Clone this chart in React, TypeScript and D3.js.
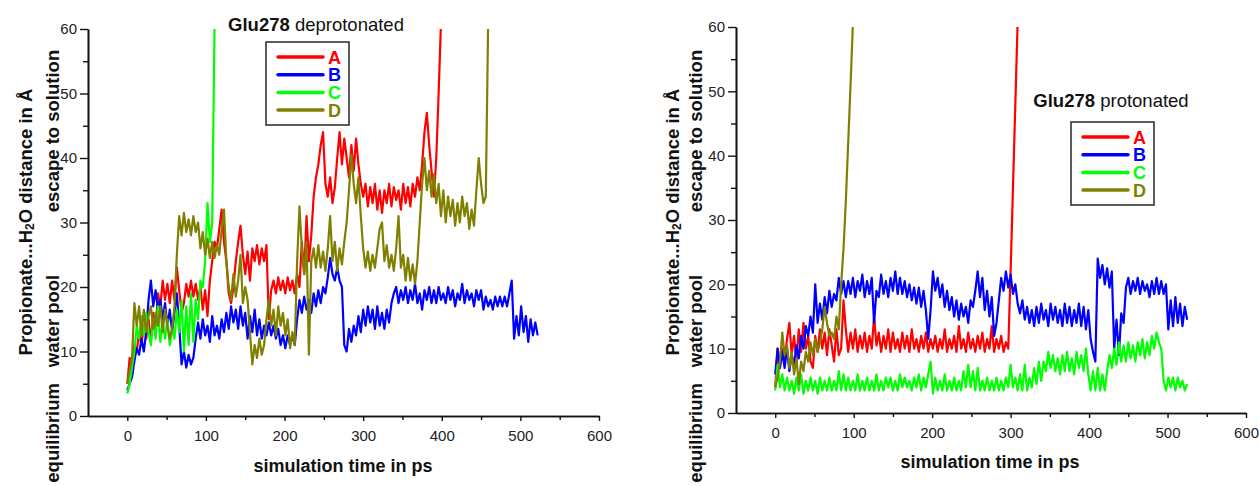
import { useEffect, useRef } from "react";
import * as d3 from "d3";

// sampled every 3 ps, values in Angstrom
const STEP = 3;

// Glu278 deprotonated
const depA = [
  5, 9, 8, 11, 10, 13, 11, 14, 12, 15,
  11.5, 16, 13, 19, 17, 21, 18, 20.5, 17.5, 21,
  18, 23, 19.5, 16, 17.5, 20.5, 18.5, 21, 18.5, 20.5,
  18, 20, 16.5, 19.5, 15.5, 21, 24, 27, 26, 29,
  32, 27, 24, 19, 17.5, 20, 24, 27, 29.5, 25,
  22, 25.5, 21, 26, 24, 26.5, 23.5, 26, 24, 26.5,
  15, 19.5, 21, 19, 21.5, 19.5, 21, 19, 21.5, 19.5,
  21, 19, 22, 20, 27, 22, 31, 24, 28, 34,
  37, 39, 42, 44, 36, 34, 37, 33, 35.5, 40,
  44, 39, 43, 40, 37, 42, 38, 43, 39, 36,
  34, 36, 32.5, 35.5, 33, 36, 32, 35, 31.5, 35,
  33, 36, 32.5, 35.5, 33.5, 35, 32, 36, 33, 35.5,
  32.5, 36, 34, 37, 35, 39, 44, 47, 42, 38,
  34, 40, 50, 61,
];
const depB = [
  4, 5, 6, 8.5, 10.5, 9.5, 12, 10, 13, 18,
  21, 17, 19.5, 16.5, 18, 15, 17.5, 14, 16.5, 13,
  16, 19, 14, 8, 10, 7.5, 9.5, 8, 9, 12,
  14.5, 12, 15, 12.5, 14, 11.5, 15.5, 12.5, 14, 12,
  15, 13, 16, 13.5, 17, 14.5, 16.5, 13.5, 17, 14,
  16, 12, 15.5, 13, 16.5, 12.5, 15, 12, 14, 12.5,
  14.5, 12.5, 14, 12, 13.5, 11, 12.5, 10.5, 12.5, 11,
  12.5, 11, 15, 18, 16, 18.5, 16.5, 18, 16, 19,
  17, 19.5, 17.5, 20, 19, 21.5, 24.5, 22, 21, 23,
  21, 20, 11, 10, 13.5, 11.5, 14, 12.5, 15.5, 13,
  16.5, 14, 17, 14.5, 16.5, 13.5, 17, 14, 16, 13.5,
  16.5, 14.5, 17.5, 19, 20, 17.5, 19.5, 18, 20, 17.5,
  19.5, 18, 20.5, 17.5, 19, 16.5, 19.5, 18, 20, 17.5,
  19.5, 17.5, 20, 18, 19, 17.5, 20, 18, 19.5, 17,
  19, 18, 20.5, 17.5, 19.5, 18, 19, 17, 19.5, 18,
  19.5, 16.5, 18.5, 17, 18, 16.5, 18.5, 17, 18.5, 17,
  18.5, 17, 19, 21, 12, 15.5, 12.5, 17, 13, 15.5,
  11.5, 15, 12.5, 14.5, 12.5,
];
const depC = [
  3.5, 5, 7.5, 10, 14, 12, 15.5, 12.5, 16, 13,
  11, 15, 12, 17, 11.5, 14.5, 12, 15, 11, 13.5,
  12, 16.5, 13, 18, 10, 17, 11, 19, 11.5, 18,
  15, 21, 20, 24, 33, 27, 30, 61,
];
const depD = [
  5, 7, 9, 17.5, 14, 17, 12.5, 16.5, 13, 15.5,
  17, 13.5, 16, 14, 17, 13, 16.5, 14, 12, 13.5,
  17, 25, 31, 28, 31.5, 28.5, 30.5, 28, 31, 28.5,
  30, 26, 28.5, 25, 27.5, 24.5, 27, 24.5, 26.5, 25,
  29, 32, 24, 20, 18, 22, 18.5, 21, 25, 17.5,
  20, 18, 13, 8, 11, 9, 12, 9.5, 11, 15,
  18, 14, 16.5, 12.5, 17, 14, 16, 12.5, 15, 10.5,
  13, 11, 24, 32.5, 26, 22, 27, 9.5, 24, 26,
  23, 26.5, 23, 25.5, 22.5, 26, 31, 24, 27, 22.5,
  26, 23.5, 27, 30, 35, 40.5, 36, 33, 37, 31,
  26, 23, 25.5, 22.5, 25, 23, 26, 29, 30, 24,
  26.5, 23, 25, 22.5, 26, 31, 23, 25, 21, 24.5,
  21, 23.5, 20.5, 24, 30, 36, 40, 35, 38, 34,
  37.5, 33, 36, 31, 35, 30, 34, 31, 33.5, 29.5,
  33, 30, 34, 31, 33, 29, 32, 29.5, 35, 40,
  36, 33, 34, 61,
];

// Glu278 protonated
const proA = [
  4, 10, 7.5, 10, 8, 11.5, 14, 9, 12, 8,
  13, 9.5, 14, 10, 12, 8, 7, 12, 9.5, 13,
  10, 12.5, 9, 13, 10.5, 8, 13, 9, 10, 17.5,
  13, 9.5, 12.5, 10, 13, 9.5, 12, 10, 12.5, 9.5,
  12, 10, 15, 10.5, 12.5, 9.5, 12, 10, 13, 9.5,
  12.5, 10, 11.5, 9.5, 12.5, 10, 12, 9.5, 13, 10,
  11.5, 9.5, 12, 10, 12.5, 9.5, 11.5, 10, 12, 9.5,
  11.5, 10, 13, 9.5, 11.5, 10, 12, 9.5, 13.5, 10,
  11.5, 9.5, 12.5, 10, 11.5, 9.5, 12, 10, 12.5, 9.5,
  11.5, 10, 13.5, 9.5, 11.5, 10, 12, 9.5, 11, 10,
  22, 35, 48, 61,
];
const proB = [
  6, 10, 7, 9.5, 7, 10, 6.5, 9, 7.5, 10.5,
  8.5, 12, 10, 13.5, 12, 15, 12.5, 20, 14, 17,
  14.5, 18, 15.5, 19, 16.5, 18.5, 17.5, 21, 18.5, 20.5,
  18, 20.5, 18.5, 21, 18, 20.5, 19, 21.5, 18, 20.5,
  18.5, 21, 14, 19, 18, 21.5, 18.5, 20.5, 18, 21,
  19, 22, 18.5, 21, 18.5, 20.5, 18, 20, 17.5, 19.5,
  17, 19.5, 16.5, 19, 16, 11.5, 16, 22, 19, 21,
  18, 20, 16.5, 19, 16, 18, 15, 17.5, 14.5, 17,
  15, 16.5, 14, 17.5, 16.5, 19, 22, 18, 21, 16,
  19, 15, 18, 12, 14, 17.5, 21, 19, 22, 19.5,
  21.5, 18.5, 20, 17, 15.5, 17.5, 14.5, 16.5, 14, 16,
  13.5, 16.5, 14, 17, 14.5, 16, 13.5, 17, 14.5, 16.5,
  14, 16, 13.5, 17, 14, 16.5, 13.5, 16, 14, 17,
  13.5, 16.5, 13, 16, 11.5, 9.5, 8, 24, 21, 23,
  20, 22.5, 19.5, 22, 10, 14.5, 9, 15.5, 14, 19.5,
  21, 18.5, 20.5, 19, 21, 18.5, 20.5, 19, 20, 18,
  20.5, 18.5, 21, 18.5, 20.5, 18.5, 20, 13, 17.5, 13.5,
  18, 14, 17, 13.5, 16.5, 14.5,
];
const proC = [
  3.5, 7.5, 4, 6, 3.5, 5.5, 3.5, 5, 3, 5.5,
  3.5, 6, 3, 5, 3.5, 5.5, 3.5, 5, 3, 5.5,
  3.5, 5, 3.5, 5.5, 3.5, 5, 3.5, 6.5, 3.5, 6,
  3.5, 5.5, 3.5, 5, 3.5, 6, 3.5, 5, 3.5, 5.5,
  3.5, 5, 3.5, 6, 3.5, 5, 3.5, 5.5, 4, 5.5,
  3.5, 5, 3.5, 6, 4, 5.5, 4, 5, 3.5, 5.5,
  4, 6, 3.5, 5.5, 4, 6, 8, 3, 5.5, 3.5,
  5, 3.5, 6, 3.5, 5, 3.5, 5.5, 3.5, 5, 3.5,
  6.5, 4, 7.5, 4, 6.5, 3.5, 7, 3.5, 5, 3.5,
  5.5, 3.5, 5, 3.5, 5.5, 3.5, 5, 3.5, 5.5, 4,
  7.5, 4, 5.5, 3.5, 6, 3.5, 7.5, 3.5, 5.5, 4,
  7, 4.5, 8, 5, 8, 6.5, 9.5, 7, 9, 6.5,
  8.5, 6, 9, 6.5, 9.5, 6.5, 8.5, 6, 9.5, 7,
  9, 6.5, 10, 6, 3.5, 6.5, 3.5, 7, 3.5, 6,
  3.5, 6.5, 9, 7, 10, 7.5, 11, 8, 10.5, 8,
  11, 8.5, 10.5, 8, 11, 9, 11.5, 8.5, 11, 9,
  12, 10, 12.5, 11, 10, 5, 3.5, 5.5, 4, 5.5,
  3.5, 5.5, 4, 5, 3.5, 4.5,
];
const proD = [
  4, 5.5, 8, 12.5, 9, 10.5, 7, 9.5, 6, 8.5,
  4.5, 8, 6.5, 9.5, 8, 11, 9, 11.5, 9.5, 11,
  13, 16.5, 14, 12, 12.5, 11.5, 15, 13, 20, 25.5,
  33, 42, 51, 60.5,
];

const seriesNames = ["A", "B", "C", "D"];
const seriesColors = ["#FF0000", "#0000FF", "#00FF00", "#808000"];
const xMajorTicks = [0, 100, 200, 300, 400, 500, 600];
const xMinorTicks = [50, 150, 250, 350, 450, 550];
const yMajorTicks = [0, 10, 20, 30, 40, 50, 60];
const yMinorTicks = [5, 15, 25, 35, 45, 55];

const FONT = "Arial, 'Liberation Sans', sans-serif";

type PanelProps = {
  id: string;
  left: number;
  right: number;
  top: number;
  bottom: number;
  series: number[][];
  title: string;
  titleX: number;
  titleY: number;
  legend: { x: number; y: number };
  labelX: number;
  labelsX: number;
  xTitleX: number;
  xTitleY: number;
};

const Panel = (p: PanelProps) => {
  const gRef = useRef<SVGGElement>(null);

  useEffect(() => {
    const g = d3.select(gRef.current);
    g.selectAll("*").remove();

    const x = d3.scaleLinear().domain([-50, 600]).range([p.left, p.right]);
    const y = d3.scaleLinear().domain([0, 60]).range([p.bottom, p.top]);

    g.append("defs")
      .append("clipPath")
      .attr("id", `clip-${p.id}`)
      .append("rect")
      .attr("x", p.left)
      .attr("y", p.top)
      .attr("width", p.right - p.left)
      .attr("height", p.bottom - p.top);

    const line = d3
      .line<number>()
      .x((_, i) => x(i * STEP))
      .y((d) => y(d));

    const lines = g.append("g").attr("clip-path", `url(#clip-${p.id})`);
    p.series.forEach((s, i) => {
      lines
        .append("path")
        .datum(s)
        .attr("fill", "none")
        .attr("stroke", seriesColors[i])
        .attr("stroke-width", 2.2)
        .attr("stroke-linejoin", "round")
        .attr("d", line);
    });

    // axes
    const styleAxis = (sel: any) => {
      sel.select(".domain").attr("stroke", "#111").attr("stroke-width", 1.6);
      sel.selectAll(".tick line").attr("stroke", "#111").attr("stroke-width", 1.4);
      sel.selectAll("text").attr("font-family", FONT).attr("font-size", 15).attr("fill", "#222");
    };

    const yAxis = g.append("g").attr("transform", `translate(${p.left},0)`);
    yAxis.call(d3.axisLeft(y).tickValues(yMajorTicks).tickSize(8).tickSizeOuter(0).tickPadding(3));
    styleAxis(yAxis);
    const yMinor = g.append("g").attr("transform", `translate(${p.left},0)`);
    yMinor.call(d3.axisLeft(y).tickValues(yMinorTicks).tickSize(5).tickSizeOuter(0).tickFormat(() => ""));
    styleAxis(yMinor);

    const xAxis = g.append("g").attr("transform", `translate(0,${p.bottom})`);
    xAxis.call(d3.axisBottom(x).tickValues(xMajorTicks).tickSize(5).tickSizeOuter(0).tickPadding(9));
    styleAxis(xAxis);
    const xMinor = g.append("g").attr("transform", `translate(0,${p.bottom})`);
    xMinor.call(d3.axisBottom(x).tickValues(xMinorTicks).tickSize(4).tickSizeOuter(0).tickFormat(() => ""));
    styleAxis(xMinor);

    // title
    const t = g
      .append("text")
      .attr("x", p.titleX)
      .attr("y", p.titleY)
      .attr("text-anchor", "middle")
      .attr("font-family", FONT)
      .attr("font-size", 18.5)
      .attr("fill", "#111");
    t.append("tspan").attr("font-weight", "bold").text("Glu278");
    t.append("tspan").text(" " + p.title);

    // legend
    const lg = g.append("g").attr("transform", `translate(${p.legend.x},${p.legend.y})`);
    lg.append("rect")
      .attr("width", 83)
      .attr("height", 83)
      .attr("fill", "white")
      .attr("stroke", "#333")
      .attr("stroke-width", 1.6);
    seriesNames.forEach((name, i) => {
      const yy = 15 + i * 17.7;
      lg.append("line")
        .attr("x1", 12)
        .attr("x2", 57)
        .attr("y1", yy)
        .attr("y2", yy)
        .attr("stroke", seriesColors[i])
        .attr("stroke-width", 3.5)
        .attr("stroke-linecap", "round");
      lg.append("text")
        .attr("x", 62)
        .attr("y", yy + 6.5)
        .attr("font-family", FONT)
        .attr("font-weight", "bold")
        .attr("font-size", 18)
        .attr("fill", seriesColors[i])
        .text(name);
    });

    // y labels
    const yl = g
      .append("text")
      .attr("transform", `translate(${p.labelX},222) rotate(-90)`)
      .attr("text-anchor", "middle")
      .attr("dominant-baseline", "central")
      .attr("font-family", FONT)
      .attr("font-weight", "bold")
      .attr("font-size", 18.5)
      .attr("fill", "#111");
    yl.append("tspan").text("Propionate...H");
    yl.append("tspan").attr("font-size", 12).attr("dy", 5).text("2");
    yl.append("tspan").attr("dy", -5).text("O distance in Å");

    const side = [
      { text: "escape to solution", y: 131, anchor: "middle" },
      { text: "water pool", y: 321, anchor: "middle" },
      { text: "equilibrium", y: 383, anchor: "end" },
    ];
    side.forEach((s) => {
      g.append("text")
        .attr("transform", `translate(${p.labelsX},${s.y}) rotate(-90)`)
        .attr("text-anchor", s.anchor)
        .attr("dominant-baseline", "central")
        .attr("font-family", FONT)
        .attr("font-weight", "bold")
        .attr("font-size", 18.5)
        .attr("fill", "#111")
        .text(s.text);
    });

    g.append("text")
      .attr("x", p.xTitleX)
      .attr("y", p.xTitleY)
      .attr("text-anchor", "middle")
      .attr("font-family", FONT)
      .attr("font-weight", "bold")
      .attr("font-size", 18)
      .attr("fill", "#111")
      .text("simulation time in ps");
  }, [p]);

  return <g ref={gRef} />;
};

export default function App() {
  return (
    <svg
      width={1259}
      height={486}
      style={{ position: "absolute", left: 0, top: 0, background: "white" }}
    >
      <Panel
        id="dep"
        left={88}
        right={599}
        top={29}
        bottom={416}
        series={[depA, depB, depC, depD]}
        title="deprotonated"
        titleX={316}
        titleY={31}
        legend={{ x: 266, y: 42 }}
        labelX={25}
        labelsX={52}
        xTitleX={343}
        xTitleY={472}
      />
      <Panel
        id="pro"
        left={736}
        right={1246}
        top={27}
        bottom={413}
        series={[proA, proB, proC, proD]}
        title="protonated"
        titleX={1111}
        titleY={107}
        legend={{ x: 1071, y: 122 }}
        labelX={672}
        labelsX={695}
        xTitleX={990}
        xTitleY={468}
      />
    </svg>
  );
}
